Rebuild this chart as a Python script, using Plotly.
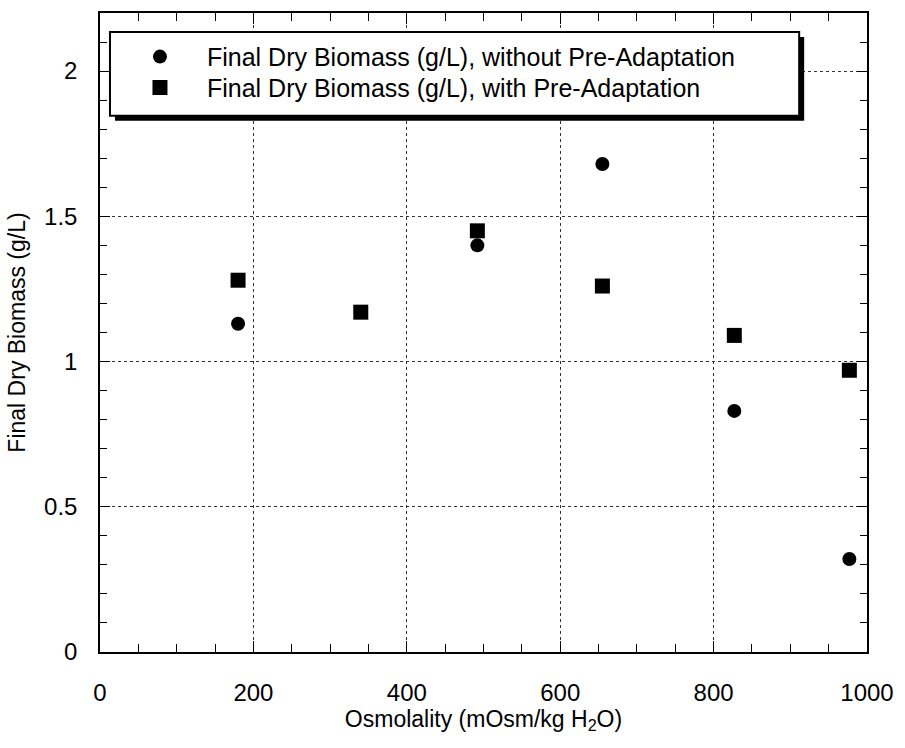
import plotly.graph_objects as go

# Data
osmolality = [180, 340, 492, 655, 827, 977]
biomass_without = [1.13, 1.17, 1.40, 1.68, 0.83, 0.32]
biomass_with = [1.28, 1.17, 1.45, 1.26, 1.09, 0.97]

x_ticks = [0, 200, 400, 600, 800, 1000]
y_ticks = [0, 0.5, 1, 1.5, 2]
y_tick_labels = ["0", "0.5", "1", "1.5", "2"]

name_without = "Final Dry Biomass (g/L), without Pre-Adaptation"
name_with = "Final Dry Biomass (g/L), with Pre-Adaptation"

W, H = 905, 748
L, R, T, B = 100, 36, 11, 96
PW, PH = W - L - R, H - T - B


def px(x):
    return (x - L) / PW


def py(y):
    return (H - B - y) / PH


FONT = "Liberation Sans, Arial, sans-serif"

fig = go.Figure()
fig.add_trace(go.Scatter(
    x=osmolality, y=biomass_without, mode="markers", name=name_without,
    marker=dict(symbol="circle", size=14, color="black"), legend="legend",
))
fig.add_trace(go.Scatter(
    x=osmolality, y=biomass_with, mode="markers", name=name_with,
    marker=dict(symbol="square", size=15, color="black"), legend="legend2",
))

# legend box with shadow
box_l, box_r, box_t, box_b = 110, 801, 30, 114
shadow = 5
fig.add_shape(type="rect", xref="paper", yref="paper",
              x0=px(box_l + shadow), x1=px(box_r + shadow),
              y0=py(box_b + shadow), y1=py(box_t + shadow),
              fillcolor="black", line=dict(width=0), layer="above")
fig.add_shape(type="rect", xref="paper", yref="paper",
              x0=px(box_l), x1=px(box_r), y0=py(box_b), y1=py(box_t),
              fillcolor="white", line=dict(color="black", width=2), layer="above")

axis_common = dict(
    showline=True, linecolor="black", linewidth=1.5, mirror="allticks",
    ticks="inside", tickcolor="black", tickwidth=1,
    showgrid=True, gridcolor="#333333", gridwidth=1, griddash="3px,3px",
    zeroline=False, tickfont=dict(family=FONT, size=24, color="black"),
)

legend_common = dict(
    xanchor="left", yanchor="middle",
    bgcolor="rgba(0,0,0,0)", borderwidth=0,
    font=dict(family=FONT, size=25, color="black"),
    itemwidth=84,
)

fig.update_layout(
    width=W, height=H,
    margin=dict(l=L, r=R, t=T, b=B, pad=0),
    paper_bgcolor="white", plot_bgcolor="white",
    font=dict(family=FONT, color="black"),
    showlegend=True,
    legend=dict(x=px(113), y=py(55), **legend_common),
    legend2=dict(x=px(113), y=py(86), **legend_common),
    xaxis=dict(
        range=[0, 1000], tickvals=x_ticks, ticktext=[str(v) for v in x_ticks],
        ticklen=11, ticklabelstandoff=18,
        minor=dict(dtick=50, tick0=0, ticks="inside", ticklen=8,
                   tickcolor="black", showgrid=False),
        title=dict(text="Osmolality (mOsm/kg H<sub>2</sub>O)",
                   font=dict(family=FONT, size=23, color="black"), standoff=6),
        **axis_common,
    ),
    yaxis=dict(
        range=[0, 2.2], tickvals=y_ticks, ticktext=y_tick_labels,
        ticklen=10, ticklabelstandoff=16,
        minor=dict(dtick=0.1, tick0=0, ticks="inside", ticklen=7,
                   tickcolor="black", showgrid=False),
        title=dict(text="Final Dry Biomass (g/L)",
                   font=dict(family=FONT, size=23, color="black"), standoff=12),
        **axis_common,
    ),
)

fig.write_html("out.html")
